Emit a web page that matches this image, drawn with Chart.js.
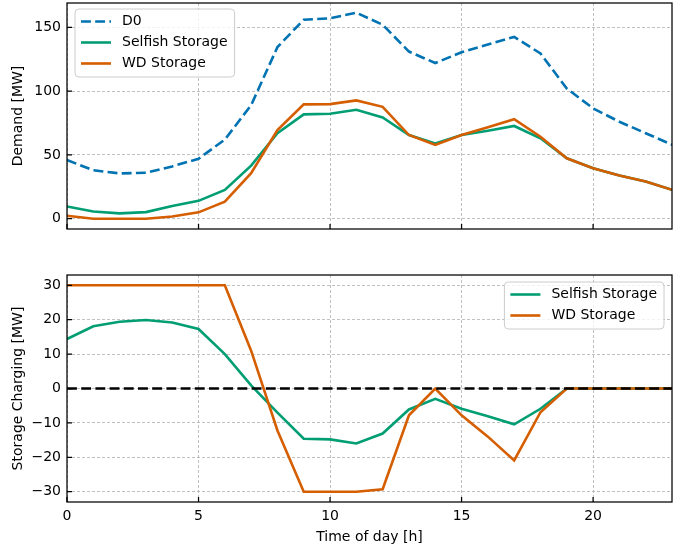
<!DOCTYPE html>
<html>
<head>
<meta charset="utf-8">
<script src="https://cdn.jsdelivr.net/npm/chart.js@4.4.0/dist/chart.umd.min.js"></script>
<style>
    body { margin: 0; background: #fff; }
    #wrap { position: relative; width: 683px; height: 547px; }
    #wrap canvas { position: absolute; left: 0; }
</style>
</head>
<body>
<div id="wrap">
    <canvas id="demandChart" width="683" height="240" style="top:0"></canvas>
    <canvas id="chargeChart" width="683" height="285" style="top:262px"></canvas>
</div>
<script>
/*** DATA ***/
const hours = [0, 1, 2, 3, 4, 5, 6, 7, 8, 9, 10, 11, 12, 13, 14, 15, 16, 17, 18, 19, 20, 21, 22, 23];

const demandD0      = [46, 38, 35.5, 36, 41, 47, 62, 89, 134.5, 156, 157, 161.5, 152, 131, 122, 130.5, 136.5, 142.5, 129.5, 102, 86.5, 76, 67, 58];
const demandSelfish = [9.6, 5.7, 4.2, 5.2, 10, 14, 22.6, 41.6, 67, 81.8, 82.3, 85.4, 79.4, 65.6, 59, 65.6, 69, 72.7, 63, 47.4, 39.6, 33.8, 29.2, 22.7];
const demandWD      = [2.3, 0, 0, 0, 1.8, 5, 13.3, 35.7, 69.5, 89.6, 89.8, 92.7, 87.7, 65.6, 57.8, 65.6, 71.6, 78, 64.3, 47.4, 39.6, 33.8, 29.2, 22.7];

const chargeSelfish = [14.4, 18.1, 19.4, 19.9, 19.2, 17.3, 10, 0.9, -7, -14.6, -14.8, -16, -13.1, -6.1, -3, -5.9, -8.1, -10.4, -5.9, 0, 0, 0, 0, 0];
const chargeWD      = [30, 30, 30, 30, 30, 30, 30, 11, -12.2, -30, -30, -30, -29.3, -7.8, 0, -7.8, -14, -20.9, -6.9, 0, 0, 0, 0, 0];

const zeroLineX = [0, 23];
const zeroLineY = [0, 0];

const hourTicks   = [0, 5, 10, 15, 20];
const demandTicks = [0, 50, 100, 150];
const chargeTicks = [-30, -20, -10, 0, 10, 20, 30];

/*** STYLE ***/
const BLUE = "#0173b2", GREEN = "#029e73", ORANGE = "#d55e00";
const FONT = "DejaVu Sans";

Chart.defaults.font.family = FONT;
Chart.defaults.font.size = 14;
Chart.defaults.color = "#000";

const pts = (xs, ys) => xs.map((x, i) => ({ x: x, y: ys[i] }));
const fmt = v => v < 0 ? "\u2212" + Math.abs(v) : String(v);

/* -------------------------------------------------------------
   frame, inward ticks and a matplotlib-like legend
-------------------------------------------------------------- */
const frameAndLegend = {
    id: "frameAndLegend",
    afterDatasetsDraw(chart, args, opts) {
        const { ctx, chartArea: a } = chart;
        const sx = chart.scales.x, sy = chart.scales.y;
        ctx.save();
        ctx.strokeStyle = "#000";
        ctx.lineWidth = 1.25;
        ctx.setLineDash([]);
        ctx.beginPath();
        sx.ticks.forEach(t => {
            const px = sx.getPixelForValue(t.value);
            ctx.moveTo(px, a.bottom);
            ctx.lineTo(px, a.bottom - 5);
        });
        sy.ticks.forEach(t => {
            const py = sy.getPixelForValue(t.value);
            ctx.moveTo(a.left, py);
            ctx.lineTo(a.left + 5, py);
        });
        ctx.stroke();
        ctx.strokeRect(a.left, a.top, a.right - a.left, a.bottom - a.top);

        // legend
        const items = chart.data.datasets.filter(d => d.label);
        ctx.font = "14px '" + FONT + "'";
        const textW = Math.max(...items.map(d => ctx.measureText(d.label).width));
        const w = 47 + textW + 7;
        const h = 26 + 21 * (items.length - 1);
        const bx = opts.side === "right" ? a.right - opts.dx - w : a.left + opts.dx;
        const by = a.top + opts.dy;
        const r = 4;
        ctx.beginPath();
        ctx.moveTo(bx + r, by);
        ctx.arcTo(bx + w, by, bx + w, by + h, r);
        ctx.arcTo(bx + w, by + h, bx, by + h, r);
        ctx.arcTo(bx, by + h, bx, by, r);
        ctx.arcTo(bx, by, bx + w, by, r);
        ctx.closePath();
        ctx.fillStyle = "rgba(255,255,255,0.8)";
        ctx.fill();
        ctx.strokeStyle = "#cccccc";
        ctx.lineWidth = 1;
        ctx.stroke();

        items.forEach((d, i) => {
            const cy = by + 12.5 + 21 * i;
            ctx.beginPath();
            ctx.strokeStyle = d.borderColor;
            ctx.lineWidth = d.borderWidth;
            ctx.setLineDash(d.borderDash || []);
            ctx.moveTo(bx + 6, cy);
            ctx.lineTo(bx + 36, cy);
            ctx.stroke();
            ctx.setLineDash([]);
            ctx.fillStyle = "#000";
            ctx.textAlign = "left";
            ctx.textBaseline = "middle";
            ctx.fillText(d.label, bx + 47, cy);
        });
        ctx.restore();
    }
};

function lineSet(label, data, color, order, dash) {
    return {
        label: label,
        data: data,
        borderColor: color,
        borderWidth: 2.6,
        borderDash: dash || [],
        pointRadius: 0,
        tension: 0,
        fill: false,
        order: order
    };
}

function axisX(showLabels, height) {
    return {
        type: "linear",
        min: 0,
        max: 23,
        afterBuildTicks: s => { s.ticks = hourTicks.map(v => ({ value: v })); },
        afterFit: s => {
            s.height = height;
            s.paddingLeft = 0;
            s.paddingRight = 0;
        },
        grid: { color: "#b0b0b0", lineWidth: 0.8, drawTicks: false },
        border: { display: false, dash: [3, 2] },
        ticks: { display: showLabels, padding: 6, maxRotation: 0, callback: fmt },
        title: {
            display: showLabels,
            text: "Time of day [h]",
            padding: { top: 0, bottom: 1 }
        }
    };
}

function axisY(title, min, max, tickList) {
    return {
        min: min,
        max: max,
        afterBuildTicks: s => { s.ticks = tickList.map(v => ({ value: v })); },
        afterFit: s => {
            s.width = 67;
            s.paddingTop = 0;
            s.paddingBottom = 0;
        },
        grid: { color: "#b0b0b0", lineWidth: 0.8, drawTicks: false },
        border: { display: false, dash: [3, 2] },
        ticks: { padding: 6, callback: fmt },
        title: { display: true, text: title, padding: { top: 10, bottom: 0 } }
    };
}

/* -------------------------------------------------------------
   DEMAND PANEL
-------------------------------------------------------------- */
new Chart(document.getElementById("demandChart").getContext("2d"), {
    type: "line",
    data: {
        datasets: [
            lineSet("D0", pts(hours, demandD0), BLUE, 3, [9.9, 4.3]),
            lineSet("Selfish Storage", pts(hours, demandSelfish), GREEN, 2),
            lineSet("WD Storage", pts(hours, demandWD), ORANGE, 1)
        ]
    },
    options: {
        responsive: false,
        animation: false,
        devicePixelRatio: 1,
        layout: { padding: { top: 3, right: 11, left: 0, bottom: 0 } },
        plugins: {
            legend: { display: false },
            tooltip: { enabled: false },
            frameAndLegend: { side: "left", dx: 8, dy: 6 }
        },
        scales: {
            x: axisX(false, 11),
            y: axisY("Demand [MW]", -8.05, 169.05, demandTicks)
        }
    },
    plugins: [frameAndLegend]
});

/* -------------------------------------------------------------
   STORAGE CHARGING PANEL
-------------------------------------------------------------- */
new Chart(document.getElementById("chargeChart").getContext("2d"), {
    type: "line",
    data: {
        datasets: [
            lineSet("Selfish Storage", pts(hours, chargeSelfish), GREEN, 3),
            lineSet("WD Storage", pts(hours, chargeWD), ORANGE, 2),
            lineSet("", pts(zeroLineX, zeroLineY), "#000", 1, [9.9, 4.3])
        ]
    },
    options: {
        responsive: false,
        animation: false,
        devicePixelRatio: 1,
        layout: { padding: { top: 13, right: 11, left: 0, bottom: 0 } },
        plugins: {
            legend: { display: false },
            tooltip: { enabled: false },
            frameAndLegend: { side: "right", dx: 8, dy: 7 }
        },
        scales: {
            x: axisX(true, 45),
            y: axisY("Storage Charging [MW]", -33, 33, chargeTicks)
        }
    },
    plugins: [frameAndLegend]
});
</script>
</body>
</html>
